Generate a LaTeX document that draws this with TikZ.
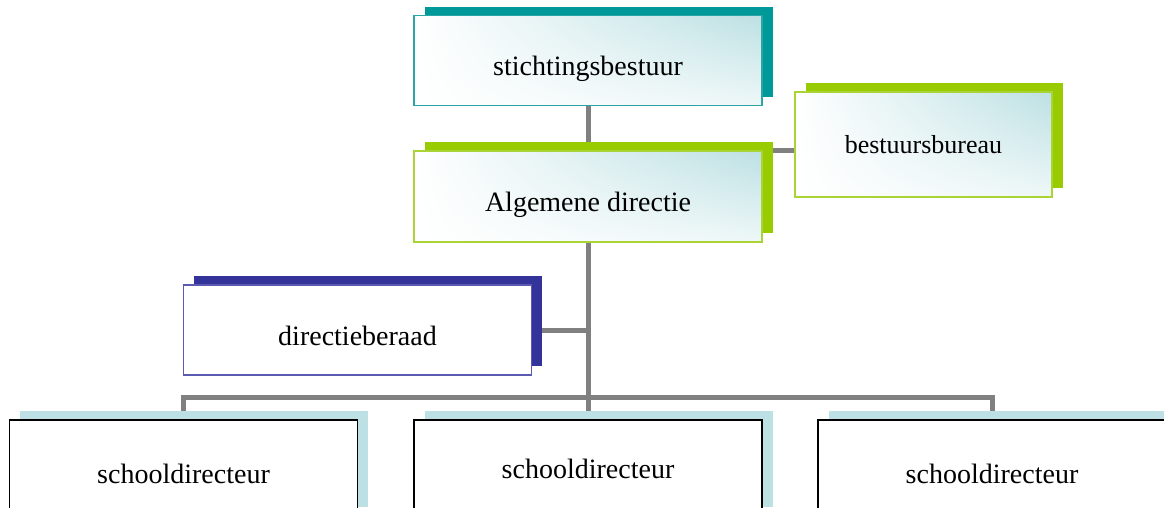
\documentclass[tikz,border=0pt]{standalone}
\usepackage{fontspec}
\setmainfont{Liberation Serif}
\usetikzlibrary{shadows,shadings,backgrounds}

\definecolor{tealdark}{HTML}{009999}
\definecolor{tealline}{HTML}{2AA5A5}
\definecolor{greendark}{HTML}{99CC00}
\definecolor{greenline}{HTML}{AAD436}
\definecolor{navydark}{HTML}{333399}
\definecolor{navyline}{HTML}{5A5AB0}
\definecolor{tealtint}{HTML}{BCE0E3}
\definecolor{linkgray}{HTML}{808080}

\tikzset{
  orgbox/.style={draw, line width=1.5pt, minimum width=348pt, minimum height=90pt,
    inner sep=0pt, font=\fontsize{28}{32}\selectfont, text height=30pt, text depth=0pt},
  tintfill/.style={upper left=white, upper right=tealtint, lower left=white, lower right=tealtint!25},
  backshadow/.style={drop shadow={shadow xshift=10.5pt, shadow yshift=9pt, fill=#1, opacity=1}},
  conn/.style={draw=linkgray, line width=5pt},
}

\begin{document}
\begin{tikzpicture}[x=1pt, y=-1pt]
\useasboundingbox (0,0) rectangle (1164,507);
\clip (0,0) rectangle (1164,507);

% top of the tree
\node[orgbox, draw=tealline, tintfill, backshadow=tealdark] (stichting) at (588,60.5) {stichtingsbestuur};
\node[orgbox, draw=greenline, tintfill, backshadow=greendark, minimum height=91pt] (algemeen) at (588,196.5) {Algemene directie};
\node[orgbox, draw=greenline, tintfill, backshadow=greendark, minimum width=257pt, minimum height=105pt,
  font=\fontsize{26}{30}\selectfont, text height=18pt] (bureau) at (923.5,144.5) {bestuursbureau};
\node[orgbox, draw=navyline, fill=white, backshadow=navydark] (beraad) at (357.5,330) {directieberaad};

% the schools
\node[orgbox, draw=black, fill=white, backshadow=tealtint, minimum height=96pt] (school1) at (183.5,468) {schooldirecteur};
\node[orgbox, draw=black, fill=white, backshadow=tealtint, minimum height=96pt, text height=20pt] (school2) at (588,468) {schooldirecteur};
\node[orgbox, draw=black, fill=white, backshadow=tealtint, minimum height=96pt] (school3) at (992,468) {schooldirecteur};
\coordinate (bus) at (588,397);

\begin{pgfonlayer}{background}
\draw[conn] (stichting.south) -- (school2.north);
\draw[conn] (algemeen.north) -- (algemeen.north -| bureau.west);
\draw[conn] (beraad.east) -- (beraad.east -| algemeen.south);
\draw[conn] (school1.north) |- (bus) -| (school3.north);
\end{pgfonlayer}
\end{tikzpicture}
\end{document}
